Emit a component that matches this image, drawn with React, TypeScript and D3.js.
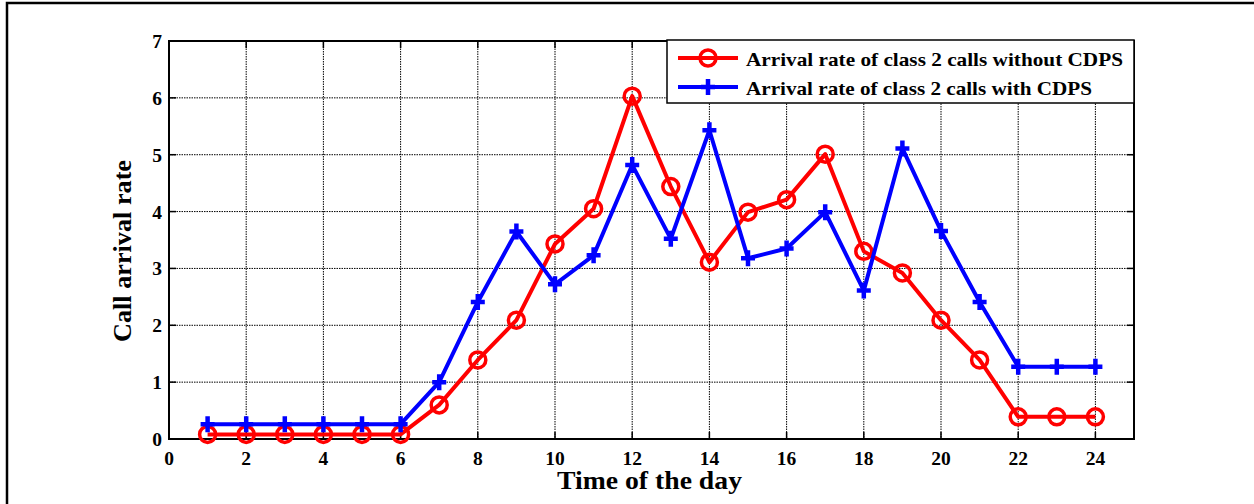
import React, { useEffect, useRef } from 'react';
import * as d3 from 'd3';

const hours = [1, 2, 3, 4, 5, 6, 7, 8, 9, 10, 11, 12, 13, 14, 15, 16, 17, 18, 19, 20, 21, 22, 23, 24];
const withoutCdps = [0.08, 0.08, 0.08, 0.08, 0.08, 0.08, 0.6, 1.39, 2.09, 3.43, 4.05, 6.03, 4.44, 3.11, 3.99, 4.21, 5.01, 3.3, 2.92, 2.09, 1.39, 0.39, 0.39, 0.39];
const withCdps = [0.26, 0.26, 0.26, 0.26, 0.26, 0.26, 1.0, 2.41, 3.65, 2.72, 3.23, 4.82, 3.52, 5.43, 3.18, 3.35, 3.99, 2.61, 5.11, 3.66, 2.41, 1.27, 1.27, 1.27];
const xTicks = [0, 2, 4, 6, 8, 10, 12, 14, 16, 18, 20, 22, 24];
const yTicks = [0, 1, 2, 3, 4, 5, 6, 7];
const legendLabels = ['Arrival rate of class 2 calls without CDPS', 'Arrival rate of class 2 calls with CDPS'];

const W = 1254;
const H = 504;
const font = '"Liberation Serif", "Times New Roman", serif';

const App = () => {
  const svgRef = useRef<SVGSVGElement>(null);

  useEffect(() => {
    const margin = { top: 41, right: 120, bottom: 65, left: 169 };
    const width = W - margin.left - margin.right;
    const height = H - margin.top - margin.bottom;

    const svg = d3.select(svgRef.current);
    svg.selectAll('*').remove();

    // outer figure frame (only top/left visible)
    svg.append('path')
      .attr('d', `M7,${H} L7,3 L${W},3`)
      .attr('fill', 'none')
      .attr('stroke', '#000')
      .attr('stroke-width', 2.5);

    const chart = svg.append('g').attr('transform', `translate(${margin.left},${margin.top})`);

    const x = d3.scaleLinear().domain([0, 25]).range([0, width]);
    const y = d3.scaleLinear().domain([0, 7]).range([height, 0]);

    // grid
    chart.append('g')
      .selectAll('line')
      .data(xTicks.filter((d) => d > 0))
      .enter()
      .append('line')
      .attr('x1', (d) => x(d))
      .attr('x2', (d) => x(d))
      .attr('y1', 0)
      .attr('y2', height)
      .attr('stroke', '#000')
      .attr('stroke-width', 1)
      .attr('stroke-dasharray', '1.5,1');
    chart.append('g')
      .selectAll('line')
      .data(yTicks.filter((d) => d > 0 && d < 7))
      .enter()
      .append('line')
      .attr('x1', 0)
      .attr('x2', width)
      .attr('y1', (d) => y(d))
      .attr('y2', (d) => y(d))
      .attr('stroke', '#000')
      .attr('stroke-width', 1)
      .attr('stroke-dasharray', '1.5,1');

    // inward ticks on all four sides
    const tl = 7;
    const tickG = chart.append('g').attr('stroke', '#000').attr('stroke-width', 1.5);
    xTicks.forEach((t) => {
      tickG.append('line').attr('x1', x(t)).attr('x2', x(t)).attr('y1', height).attr('y2', height - tl);
      tickG.append('line').attr('x1', x(t)).attr('x2', x(t)).attr('y1', 0).attr('y2', tl);
    });
    yTicks.forEach((t) => {
      tickG.append('line').attr('x1', 0).attr('x2', tl).attr('y1', y(t)).attr('y2', y(t));
      tickG.append('line').attr('x1', width).attr('x2', width - tl).attr('y1', y(t)).attr('y2', y(t));
    });

    // axes box
    chart.append('rect')
      .attr('width', width)
      .attr('height', height)
      .attr('fill', 'none')
      .attr('stroke', '#000')
      .attr('stroke-width', 2);

    // tick labels
    chart.append('g')
      .selectAll('text')
      .data(xTicks)
      .enter()
      .append('text')
      .attr('x', (d) => x(d))
      .attr('y', height + 26)
      .attr('text-anchor', 'middle')
      .style('font-family', font)
      .style('font-weight', 'bold')
      .style('font-size', '19.5px')
      .text((d) => d);
    chart.append('g')
      .selectAll('text')
      .data(yTicks)
      .enter()
      .append('text')
      .attr('x', -7)
      .attr('y', (d) => y(d) + 7)
      .attr('text-anchor', 'end')
      .style('font-family', font)
      .style('font-weight', 'bold')
      .style('font-size', '19.5px')
      .text((d) => d);

    // axis titles
    chart.append('text')
      .attr('x', 557 - margin.left)
      .attr('y', 489 - margin.top)
      .attr('textLength', 185)
      .attr('lengthAdjust', 'spacingAndGlyphs')
      .style('font-family', font)
      .style('font-weight', 'bold')
      .style('font-size', '24.5px')
      .text('Time of the day');
    chart.append('text')
      .attr('transform', `translate(${131 - margin.left},${342 - margin.top}) rotate(-90)`)
      .attr('textLength', 182)
      .attr('lengthAdjust', 'spacingAndGlyphs')
      .style('font-family', font)
      .style('font-weight', 'bold')
      .style('font-size', '24.5px')
      .text('Call arrival rate');

    const line = d3.line<number>()
      .x((d, i) => x(hours[i]))
      .y((d) => y(d));

    const series = [
      { values: withoutCdps, color: '#ff0000', marker: 'circle' },
      { values: withCdps, color: '#0000ff', marker: 'plus' },
    ];

    const drawMarker = (g: any, cx: number, cy: number, color: string, marker: string) => {
      if (marker === 'circle') {
        g.append('circle')
          .attr('cx', cx)
          .attr('cy', cy)
          .attr('r', 8)
          .attr('fill', 'none')
          .attr('stroke', color)
          .attr('stroke-width', 3.5);
      } else {
        g.append('path')
          .attr('d', `M${cx - 7},${cy} L${cx + 7},${cy} M${cx},${cy - 8} L${cx},${cy + 8}`)
          .attr('stroke', color)
          .attr('stroke-width', 4.5);
      }
    };

    series.forEach((s) => {
      chart.append('path')
        .datum(s.values)
        .attr('fill', 'none')
        .attr('stroke', s.color)
        .attr('stroke-width', 4)
        .attr('stroke-linejoin', 'round')
        .attr('d', line);
      const mg = chart.append('g');
      s.values.forEach((v, i) => drawMarker(mg, x(hours[i]), y(v), s.color, s.marker));
    });

    // legend
    const lx = 667 - margin.left;
    const ly = 40 - margin.top;
    const legendWidths = [377, 346];
    const lg = chart.append('g').attr('transform', `translate(${lx},${ly})`);
    lg.append('rect')
      .attr('width', width - lx)
      .attr('height', 63)
      .attr('fill', '#fff')
      .attr('stroke', '#000')
      .attr('stroke-width', 1.5);
    series.forEach((s, i) => {
      const yy = 18 + i * 29;
      lg.append('line')
        .attr('x1', 11)
        .attr('x2', 71)
        .attr('y1', yy)
        .attr('y2', yy)
        .attr('stroke', s.color)
        .attr('stroke-width', 4);
      drawMarker(lg, 41, yy, s.color, s.marker);
      lg.append('text')
        .attr('x', 79)
        .attr('y', yy + 8)
        .attr('textLength', legendWidths[i])
        .attr('lengthAdjust', 'spacingAndGlyphs')
        .style('font-family', font)
        .style('font-weight', 'bold')
        .style('font-size', '19.5px')
        .text(legendLabels[i]);
    });
  }, []);

  return (
    <svg ref={svgRef} width={W} height={H} style={{ position: 'absolute', left: 0, top: 0, background: '#fff' }} />
  );
};

export default App;
